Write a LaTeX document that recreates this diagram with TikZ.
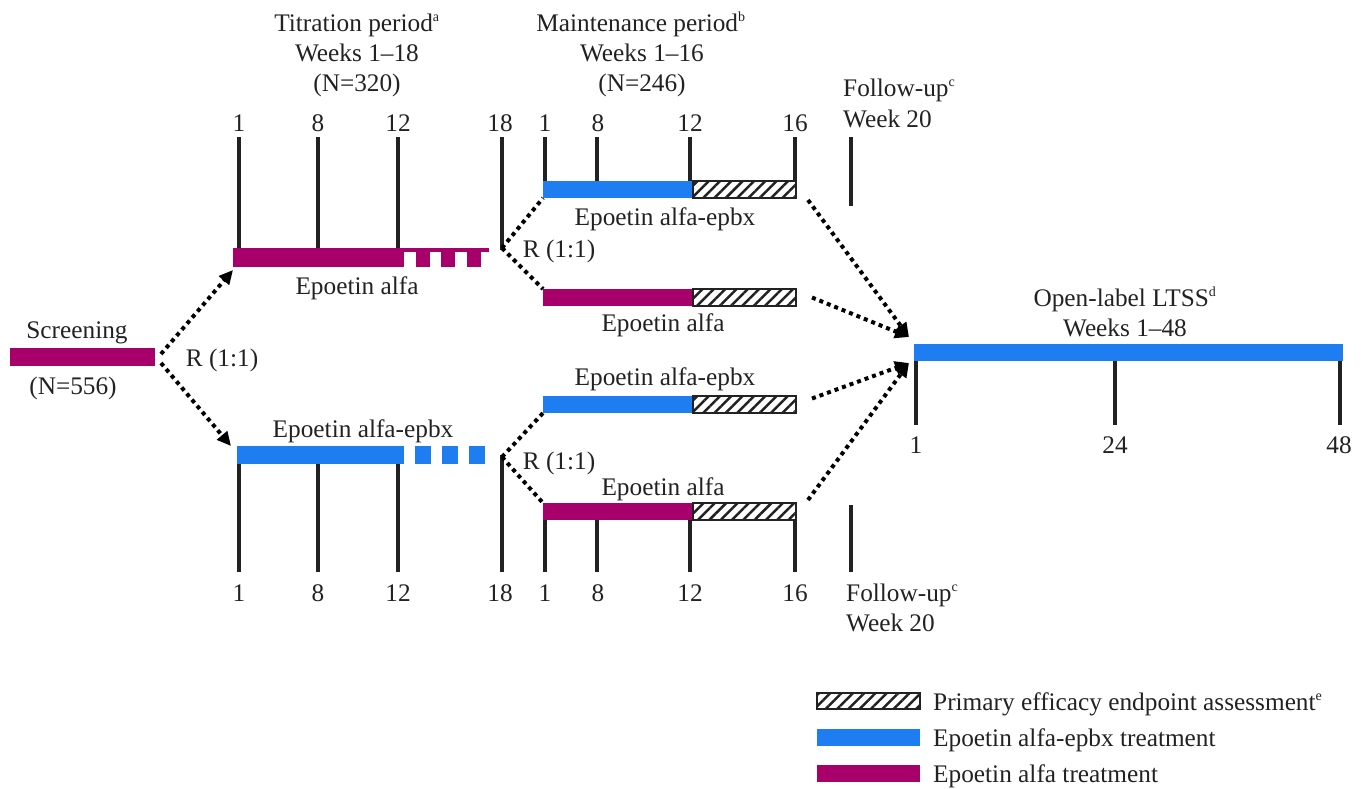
\documentclass[tikz,border=0pt]{standalone}
\usepackage{
    fontspec,
    tikz,
    xcolor}
\setmainfont{Liberation Serif}
\usetikzlibrary{arrows.meta}
\usetikzlibrary{patterns.meta}
\definecolor{alfa}{HTML}{A8006B}
\definecolor{epbx}{HTML}{1E7DF0}
\definecolor{ink}{HTML}{222222}
\newcommand{\supnote}[1]{\textsuperscript{\fontsize{14}{14}\selectfont #1}}

\begin{document}
\begin{tikzpicture}[x=1pt,y=-1pt]
\tikzset{lbl/.style={font=\fontsize{25.3}{30}\selectfont, text=ink, inner sep=0pt, text height=20pt, text depth=2pt}}
\tikzset{bar/.style={anchor=north west, inner sep=0pt, outer sep=0pt, minimum height=#1}, bar/.default=17pt}
\tikzset{alfabar/.style={bar=#1, fill=alfa}, alfabar/.default=17pt}
\tikzset{epbxbar/.style={bar=#1, fill=epbx}, epbxbar/.default=17pt}
\tikzset{hatchbar/.style={bar=#1, draw=ink, line width=2.5pt, pattern={Lines[angle=45,distance=8pt,line width=2.5pt]}, pattern color=ink}, hatchbar/.default=17pt}
\tikzset{tick/.style={draw=ink, line width=4pt}}
\tikzset{dots/.style={draw=black, line width=4pt, dash pattern=on 4pt off 4pt}}
\tikzset{dotarrow/.style={dots, -{Triangle[length=14pt,width=13pt]}}}
\useasboundingbox (0,0) rectangle (1366,788);

% headers
\node[lbl] (titA) at (357,22) {Titration period\supnote{a}};
\node[lbl] (titB) at (357,52) {Weeks 1--18};
\node[lbl] (titC) at (357,82) {(N=320)};
\node[lbl] (manA) at (641,22) {Maintenance period\supnote{b}};
\node[lbl] (manB) at (642,52) {Weeks 1--16};
\node[lbl] (manC) at (642,82) {(N=246)};
\node[lbl, anchor=west] (fupA) at (843,87) {Follow-up\supnote{c}};
\node[lbl, anchor=west] (fupB) at (843,118) {Week 20};
\node[lbl, anchor=west] (fdnA) at (846,592) {Follow-up\supnote{c}};
\node[lbl, anchor=west] (fdnB) at (846,622) {Week 20};
\node[lbl] (ltA) at (1125,297) {Open-label LTSS\supnote{d}};
\node[lbl] (ltB) at (1125,327) {Weeks 1--48};

% screening
\node[alfabar=18pt, minimum width=145pt] (scr) at (10,348) {};
\node[lbl] (scrA) at (77,329) {Screening};
\node[lbl] (scrB) at (73,385) {(N=556)};
\node[lbl] (rand0) at (222,357) {R (1:1)};

% titration, top arm
\node[alfabar=19pt, minimum width=171pt] (tt) at (233,248) {};
\fill[alfa] (tt.north east) rectangle (489,252);
\fill[alfa] (416,252) rectangle (430,267);
\fill[alfa] (441,252) rectangle (455,267);
\fill[alfa] (467,252) rectangle (481,267);
\node[lbl] (ttA) at (357,285) {Epoetin alfa};
\draw[tick] (239,137) -- (239,248);
\draw[tick] (318,137) -- (318,248);
\draw[tick] (398,137) -- (398,248);
\draw[tick] (502,137) -- (502,250);
\node[lbl] (tt1) at (239,122) {1};
\node[lbl] (tt8) at (318,122) {8};
\node[lbl] (tt12) at (398,122) {12};
\node[lbl] (tt18) at (500,122) {18};

% titration, bottom arm
\node[epbxbar=18pt, minimum width=167pt] (tb) at (237,446) {};
\fill[epbx] (415,446) rectangle (431,464);
\fill[epbx] (442,446) rectangle (458,464);
\fill[epbx] (469,446) rectangle (485,464);
\node[lbl] (tbA) at (363,428) {Epoetin alfa-epbx};
\draw[tick] (239,464) -- (239,572);
\draw[tick] (318,464) -- (318,572);
\draw[tick] (398,464) -- (398,572);
\draw[tick] (502,455) -- (502,572);
\node[lbl] (tb1) at (239,592) {1};
\node[lbl] (tb8) at (318,592) {8};
\node[lbl] (tb12) at (398,592) {12};
\node[lbl] (tb18) at (500,592) {18};

% maintenance
\draw[tick] (545,137) -- (545,181);
\draw[tick] (597,137) -- (597,181);
\draw[tick] (690,137) -- (690,181);
\draw[tick] (795,137) -- (795,181);
\draw[tick] (851,137) -- (851,206);
\node[lbl] (mt1) at (545,122) {1};
\node[lbl] (mt8) at (598,122) {8};
\node[lbl] (mt12) at (690,122) {12};
\node[lbl] (mt16) at (795,122) {16};
\node[epbxbar, minimum width=150pt] (m1) at (543,181) {};
\node[hatchbar, minimum width=103pt] (h1) at (m1.north east) {};
\node[lbl] (m1A) at (665,216) {Epoetin alfa-epbx};
\node[alfabar, minimum width=150pt] (m2) at (543,289) {};
\node[hatchbar, minimum width=103pt] (h2) at (m2.north east) {};
\node[lbl] (m2A) at (663,322) {Epoetin alfa};
\node[epbxbar, minimum width=150pt] (m3) at (543,396) {};
\node[hatchbar, minimum width=103pt] (h3) at (m3.north east) {};
\node[lbl] (m3A) at (665,376) {Epoetin alfa-epbx};
\node[alfabar, minimum width=150pt] (m4) at (543,503) {};
\node[hatchbar, minimum width=103pt] (h4) at (m4.north east) {};
\node[lbl] (m4A) at (663,486) {Epoetin alfa};
\draw[tick] (545,520) -- (545,572);
\draw[tick] (597,520) -- (597,572);
\draw[tick] (690,520) -- (690,572);
\draw[tick] (795,520) -- (795,572);
\draw[tick] (851,505) -- (851,572);
\node[lbl] (mb1) at (545,592) {1};
\node[lbl] (mb8) at (598,592) {8};
\node[lbl] (mb12) at (690,592) {12};
\node[lbl] (mb16) at (795,592) {16};
\node[lbl] (rand1) at (559,248) {R (1:1)};
\node[lbl] (rand2) at (559,460) {R (1:1)};

% LTSS
\node[epbxbar, minimum width=429pt] (ltss) at (914,344) {};
\draw[tick] (916,361) -- (916,425);
\draw[tick] (1115,361) -- (1115,425);
\draw[tick] (1340,361) -- (1340,425);
\node[lbl] (lt1) at (916,444) {1};
\node[lbl] (lt24) at (1115,444) {24};
\node[lbl] (lt48) at (1339,444) {48};

% connectors
\coordinate (split1) at (502,248);
\coordinate (split2) at (502,457);
\coordinate (in1) at ([xshift=-5pt,yshift=7pt]ltss.north west);
\coordinate (in2) at ([xshift=-5pt,yshift=-2pt]ltss.south west);
\draw[dotarrow] ([xshift=6pt,yshift=3pt]scr.east) -- ([yshift=-3pt]tt.south west);
\draw[dotarrow] ([xshift=6pt,yshift=-6pt]scr.east) -- ([xshift=-6pt]tb.north west);
\draw[dots] (split1) -- (m1.south west);
\draw[dots] (split1) -- (m2.north west);
\draw[dots] (split2) -- (m3.south west);
\draw[dots] (split2) -- (m4.north west);
\draw[dotarrow] ([xshift=12pt,yshift=-2pt]h1.south east) -- (in1);
\draw[dotarrow] ([xshift=16pt]h2.east) -- (in1);
\draw[dotarrow] ([xshift=16pt,yshift=6pt]h3.east) -- (in2);
\draw[dotarrow] ([xshift=12pt,yshift=3pt]h4.north east) -- (in2);

% legend
\node[hatchbar=16pt, minimum width=103pt] (lg1) at (817,693) {};
\node[epbxbar, minimum width=103pt] (lg2) at (817,729) {};
\node[alfabar, minimum width=103pt] (lg3) at (817,765) {};
\node[lbl, anchor=west] (lg1A) at ([xshift=13pt]lg1.east) {Primary efficacy endpoint assessment\supnote{e}};
\node[lbl, anchor=west] (lg2A) at ([xshift=13pt]lg2.east) {Epoetin alfa-epbx treatment};
\node[lbl, anchor=west] (lg3A) at ([xshift=13pt]lg3.east) {Epoetin alfa treatment};
\end{tikzpicture}
\end{document}
